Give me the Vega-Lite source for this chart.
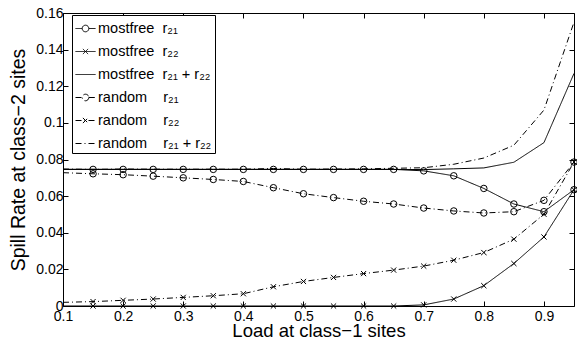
{
  "$schema": "https://vega.github.io/schema/vega-lite/v6.json",
  "width": 511,
  "height": 293,
  "autosize": {"type": "none"},
  "padding": {"left": 63, "top": 13, "right": 3, "bottom": 34},
  "background": "white",
  "config": {
    "view": {"stroke": null},
    "font": "Liberation Sans",
    "axis": {
      "domainColor": "black", "domainWidth": 1,
      "tickColor": "black", "tickWidth": 1, "tickSize": -5,
      "labelColor": "black", "labelFont": "Liberation Sans", "labelFontSize": 14,
      "titleFont": "Liberation Sans", "titleFontWeight": "normal", "titleColor": "black",
      "grid": false, "labelFlush": false, "labelOverlap": false
    }
  },
  "data": {"values": [
    {"series": "mostfree\u00a0\u00a0r\u2082\u2081", "x": 0.1, "y": 0.0746},
    {"series": "mostfree\u00a0\u00a0r\u2082\u2081", "x": 0.15, "y": 0.0746},
    {"series": "mostfree\u00a0\u00a0r\u2082\u2081", "x": 0.2, "y": 0.0746},
    {"series": "mostfree\u00a0\u00a0r\u2082\u2081", "x": 0.25, "y": 0.0746},
    {"series": "mostfree\u00a0\u00a0r\u2082\u2081", "x": 0.3, "y": 0.0746},
    {"series": "mostfree\u00a0\u00a0r\u2082\u2081", "x": 0.35, "y": 0.0746},
    {"series": "mostfree\u00a0\u00a0r\u2082\u2081", "x": 0.4, "y": 0.0746},
    {"series": "mostfree\u00a0\u00a0r\u2082\u2081", "x": 0.45, "y": 0.0746},
    {"series": "mostfree\u00a0\u00a0r\u2082\u2081", "x": 0.5, "y": 0.0746},
    {"series": "mostfree\u00a0\u00a0r\u2082\u2081", "x": 0.55, "y": 0.0746},
    {"series": "mostfree\u00a0\u00a0r\u2082\u2081", "x": 0.6, "y": 0.0746},
    {"series": "mostfree\u00a0\u00a0r\u2082\u2081", "x": 0.65, "y": 0.0746},
    {"series": "mostfree\u00a0\u00a0r\u2082\u2081", "x": 0.7, "y": 0.0738},
    {"series": "mostfree\u00a0\u00a0r\u2082\u2081", "x": 0.75, "y": 0.0711},
    {"series": "mostfree\u00a0\u00a0r\u2082\u2081", "x": 0.8, "y": 0.0642},
    {"series": "mostfree\u00a0\u00a0r\u2082\u2081", "x": 0.85, "y": 0.0557},
    {"series": "mostfree\u00a0\u00a0r\u2082\u2081", "x": 0.9, "y": 0.0515},
    {"series": "mostfree\u00a0\u00a0r\u2082\u2081", "x": 0.95, "y": 0.0635},

    {"series": "mostfree\u00a0\u00a0r\u2082\u2082", "x": 0.1, "y": 0},
    {"series": "mostfree\u00a0\u00a0r\u2082\u2082", "x": 0.15, "y": 0},
    {"series": "mostfree\u00a0\u00a0r\u2082\u2082", "x": 0.2, "y": 0},
    {"series": "mostfree\u00a0\u00a0r\u2082\u2082", "x": 0.25, "y": 0},
    {"series": "mostfree\u00a0\u00a0r\u2082\u2082", "x": 0.3, "y": 0},
    {"series": "mostfree\u00a0\u00a0r\u2082\u2082", "x": 0.35, "y": 0},
    {"series": "mostfree\u00a0\u00a0r\u2082\u2082", "x": 0.4, "y": 0},
    {"series": "mostfree\u00a0\u00a0r\u2082\u2082", "x": 0.45, "y": 0},
    {"series": "mostfree\u00a0\u00a0r\u2082\u2082", "x": 0.5, "y": 0},
    {"series": "mostfree\u00a0\u00a0r\u2082\u2082", "x": 0.55, "y": 0},
    {"series": "mostfree\u00a0\u00a0r\u2082\u2082", "x": 0.6, "y": 0},
    {"series": "mostfree\u00a0\u00a0r\u2082\u2082", "x": 0.65, "y": 0},
    {"series": "mostfree\u00a0\u00a0r\u2082\u2082", "x": 0.7, "y": 0.0006},
    {"series": "mostfree\u00a0\u00a0r\u2082\u2082", "x": 0.75, "y": 0.0038},
    {"series": "mostfree\u00a0\u00a0r\u2082\u2082", "x": 0.8, "y": 0.0111},
    {"series": "mostfree\u00a0\u00a0r\u2082\u2082", "x": 0.85, "y": 0.0232},
    {"series": "mostfree\u00a0\u00a0r\u2082\u2082", "x": 0.9, "y": 0.0377},
    {"series": "mostfree\u00a0\u00a0r\u2082\u2082", "x": 0.95, "y": 0.0635},

    {"series": "mostfree\u00a0\u00a0r\u2082\u2081 + r\u2082\u2082", "x": 0.1, "y": 0.0746},
    {"series": "mostfree\u00a0\u00a0r\u2082\u2081 + r\u2082\u2082", "x": 0.15, "y": 0.0746},
    {"series": "mostfree\u00a0\u00a0r\u2082\u2081 + r\u2082\u2082", "x": 0.2, "y": 0.0746},
    {"series": "mostfree\u00a0\u00a0r\u2082\u2081 + r\u2082\u2082", "x": 0.25, "y": 0.0746},
    {"series": "mostfree\u00a0\u00a0r\u2082\u2081 + r\u2082\u2082", "x": 0.3, "y": 0.0746},
    {"series": "mostfree\u00a0\u00a0r\u2082\u2081 + r\u2082\u2082", "x": 0.35, "y": 0.0746},
    {"series": "mostfree\u00a0\u00a0r\u2082\u2081 + r\u2082\u2082", "x": 0.4, "y": 0.0746},
    {"series": "mostfree\u00a0\u00a0r\u2082\u2081 + r\u2082\u2082", "x": 0.45, "y": 0.0746},
    {"series": "mostfree\u00a0\u00a0r\u2082\u2081 + r\u2082\u2082", "x": 0.5, "y": 0.0746},
    {"series": "mostfree\u00a0\u00a0r\u2082\u2081 + r\u2082\u2082", "x": 0.55, "y": 0.0746},
    {"series": "mostfree\u00a0\u00a0r\u2082\u2081 + r\u2082\u2082", "x": 0.6, "y": 0.0746},
    {"series": "mostfree\u00a0\u00a0r\u2082\u2081 + r\u2082\u2082", "x": 0.65, "y": 0.0746},
    {"series": "mostfree\u00a0\u00a0r\u2082\u2081 + r\u2082\u2082", "x": 0.7, "y": 0.0745},
    {"series": "mostfree\u00a0\u00a0r\u2082\u2081 + r\u2082\u2082", "x": 0.75, "y": 0.0749},
    {"series": "mostfree\u00a0\u00a0r\u2082\u2081 + r\u2082\u2082", "x": 0.8, "y": 0.0754},
    {"series": "mostfree\u00a0\u00a0r\u2082\u2081 + r\u2082\u2082", "x": 0.85, "y": 0.0785},
    {"series": "mostfree\u00a0\u00a0r\u2082\u2081 + r\u2082\u2082", "x": 0.9, "y": 0.0892},
    {"series": "mostfree\u00a0\u00a0r\u2082\u2081 + r\u2082\u2082", "x": 0.95, "y": 0.127},

    {"series": "random\u00a0\u00a0\u00a0\u00a0r\u2082\u2081", "x": 0.1, "y": 0.0728},
    {"series": "random\u00a0\u00a0\u00a0\u00a0r\u2082\u2081", "x": 0.15, "y": 0.0722},
    {"series": "random\u00a0\u00a0\u00a0\u00a0r\u2082\u2081", "x": 0.2, "y": 0.0717},
    {"series": "random\u00a0\u00a0\u00a0\u00a0r\u2082\u2081", "x": 0.25, "y": 0.0709},
    {"series": "random\u00a0\u00a0\u00a0\u00a0r\u2082\u2081", "x": 0.3, "y": 0.07},
    {"series": "random\u00a0\u00a0\u00a0\u00a0r\u2082\u2081", "x": 0.35, "y": 0.0691},
    {"series": "random\u00a0\u00a0\u00a0\u00a0r\u2082\u2081", "x": 0.4, "y": 0.068},
    {"series": "random\u00a0\u00a0\u00a0\u00a0r\u2082\u2081", "x": 0.45, "y": 0.0646},
    {"series": "random\u00a0\u00a0\u00a0\u00a0r\u2082\u2081", "x": 0.5, "y": 0.0613},
    {"series": "random\u00a0\u00a0\u00a0\u00a0r\u2082\u2081", "x": 0.55, "y": 0.0592},
    {"series": "random\u00a0\u00a0\u00a0\u00a0r\u2082\u2081", "x": 0.6, "y": 0.0572},
    {"series": "random\u00a0\u00a0\u00a0\u00a0r\u2082\u2081", "x": 0.65, "y": 0.0557},
    {"series": "random\u00a0\u00a0\u00a0\u00a0r\u2082\u2081", "x": 0.7, "y": 0.0535},
    {"series": "random\u00a0\u00a0\u00a0\u00a0r\u2082\u2081", "x": 0.75, "y": 0.0519},
    {"series": "random\u00a0\u00a0\u00a0\u00a0r\u2082\u2081", "x": 0.8, "y": 0.0508},
    {"series": "random\u00a0\u00a0\u00a0\u00a0r\u2082\u2081", "x": 0.85, "y": 0.0515},
    {"series": "random\u00a0\u00a0\u00a0\u00a0r\u2082\u2081", "x": 0.9, "y": 0.0577},
    {"series": "random\u00a0\u00a0\u00a0\u00a0r\u2082\u2081", "x": 0.95, "y": 0.0786},

    {"series": "random\u00a0\u00a0\u00a0\u00a0r\u2082\u2082", "x": 0.1, "y": 0.002},
    {"series": "random\u00a0\u00a0\u00a0\u00a0r\u2082\u2082", "x": 0.15, "y": 0.0024},
    {"series": "random\u00a0\u00a0\u00a0\u00a0r\u2082\u2082", "x": 0.2, "y": 0.0031},
    {"series": "random\u00a0\u00a0\u00a0\u00a0r\u2082\u2082", "x": 0.25, "y": 0.0038},
    {"series": "random\u00a0\u00a0\u00a0\u00a0r\u2082\u2082", "x": 0.3, "y": 0.0047},
    {"series": "random\u00a0\u00a0\u00a0\u00a0r\u2082\u2082", "x": 0.35, "y": 0.0056},
    {"series": "random\u00a0\u00a0\u00a0\u00a0r\u2082\u2082", "x": 0.4, "y": 0.0067},
    {"series": "random\u00a0\u00a0\u00a0\u00a0r\u2082\u2082", "x": 0.45, "y": 0.0105},
    {"series": "random\u00a0\u00a0\u00a0\u00a0r\u2082\u2082", "x": 0.5, "y": 0.0134},
    {"series": "random\u00a0\u00a0\u00a0\u00a0r\u2082\u2082", "x": 0.55, "y": 0.0156},
    {"series": "random\u00a0\u00a0\u00a0\u00a0r\u2082\u2082", "x": 0.6, "y": 0.0177},
    {"series": "random\u00a0\u00a0\u00a0\u00a0r\u2082\u2082", "x": 0.65, "y": 0.0196},
    {"series": "random\u00a0\u00a0\u00a0\u00a0r\u2082\u2082", "x": 0.7, "y": 0.0218},
    {"series": "random\u00a0\u00a0\u00a0\u00a0r\u2082\u2082", "x": 0.75, "y": 0.025},
    {"series": "random\u00a0\u00a0\u00a0\u00a0r\u2082\u2082", "x": 0.8, "y": 0.0292},
    {"series": "random\u00a0\u00a0\u00a0\u00a0r\u2082\u2082", "x": 0.85, "y": 0.0365},
    {"series": "random\u00a0\u00a0\u00a0\u00a0r\u2082\u2082", "x": 0.9, "y": 0.0501},
    {"series": "random\u00a0\u00a0\u00a0\u00a0r\u2082\u2082", "x": 0.95, "y": 0.0786},

    {"series": "random\u00a0\u00a0\u00a0\u00a0r\u2082\u2081 + r\u2082\u2082", "x": 0.1, "y": 0.0748},
    {"series": "random\u00a0\u00a0\u00a0\u00a0r\u2082\u2081 + r\u2082\u2082", "x": 0.15, "y": 0.0746},
    {"series": "random\u00a0\u00a0\u00a0\u00a0r\u2082\u2081 + r\u2082\u2082", "x": 0.2, "y": 0.0748},
    {"series": "random\u00a0\u00a0\u00a0\u00a0r\u2082\u2081 + r\u2082\u2082", "x": 0.25, "y": 0.0747},
    {"series": "random\u00a0\u00a0\u00a0\u00a0r\u2082\u2081 + r\u2082\u2082", "x": 0.3, "y": 0.0747},
    {"series": "random\u00a0\u00a0\u00a0\u00a0r\u2082\u2081 + r\u2082\u2082", "x": 0.35, "y": 0.0747},
    {"series": "random\u00a0\u00a0\u00a0\u00a0r\u2082\u2081 + r\u2082\u2082", "x": 0.4, "y": 0.0747},
    {"series": "random\u00a0\u00a0\u00a0\u00a0r\u2082\u2081 + r\u2082\u2082", "x": 0.45, "y": 0.0751},
    {"series": "random\u00a0\u00a0\u00a0\u00a0r\u2082\u2081 + r\u2082\u2082", "x": 0.5, "y": 0.0747},
    {"series": "random\u00a0\u00a0\u00a0\u00a0r\u2082\u2081 + r\u2082\u2082", "x": 0.55, "y": 0.0748},
    {"series": "random\u00a0\u00a0\u00a0\u00a0r\u2082\u2081 + r\u2082\u2082", "x": 0.6, "y": 0.0749},
    {"series": "random\u00a0\u00a0\u00a0\u00a0r\u2082\u2081 + r\u2082\u2082", "x": 0.65, "y": 0.0752},
    {"series": "random\u00a0\u00a0\u00a0\u00a0r\u2082\u2081 + r\u2082\u2082", "x": 0.7, "y": 0.0755},
    {"series": "random\u00a0\u00a0\u00a0\u00a0r\u2082\u2081 + r\u2082\u2082", "x": 0.75, "y": 0.0774},
    {"series": "random\u00a0\u00a0\u00a0\u00a0r\u2082\u2081 + r\u2082\u2082", "x": 0.8, "y": 0.0808},
    {"series": "random\u00a0\u00a0\u00a0\u00a0r\u2082\u2081 + r\u2082\u2082", "x": 0.85, "y": 0.0878},
    {"series": "random\u00a0\u00a0\u00a0\u00a0r\u2082\u2081 + r\u2082\u2082", "x": 0.9, "y": 0.107},
    {"series": "random\u00a0\u00a0\u00a0\u00a0r\u2082\u2081 + r\u2082\u2082", "x": 0.95, "y": 0.155}
  ]},
  "resolve": {"axis": {"x": "independent", "y": "independent"}},
  "layer": [
    {
      "mark": {"type": "line", "stroke": "black", "strokeWidth": 1, "clip": true},
      "encoding": {
        "x": {"field": "x", "type": "quantitative",
          "scale": {"domain": [0.1, 0.95], "nice": false, "zero": false},
          "axis": {"orient": "bottom", "values": [0.1, 0.2, 0.3, 0.4, 0.5, 0.6, 0.7, 0.8, 0.9], "format": ".1f",
            "title": "Load at class\u22121 sites", "titleFontSize": 18.5, "labelPadding": 8, "titlePadding": -2}},
        "y": {"field": "y", "type": "quantitative",
          "scale": {"domain": [0, 0.16], "nice": false, "zero": false},
          "axis": {"orient": "left", "values": [0, 0.02, 0.04, 0.06, 0.08, 0.1, 0.12, 0.14, 0.16], "format": ".2~f",
            "title": "Spill Rate at class\u22122 sites", "titleFontSize": 19.5, "labelPadding": 5, "titlePadding": 7}},
        "strokeDash": {"field": "series", "type": "nominal",
          "scale": {
            "domain": [
              "mostfree\u00a0\u00a0r\u2082\u2081",
              "mostfree\u00a0\u00a0r\u2082\u2082",
              "mostfree\u00a0\u00a0r\u2082\u2081 + r\u2082\u2082",
              "random\u00a0\u00a0\u00a0\u00a0r\u2082\u2081",
              "random\u00a0\u00a0\u00a0\u00a0r\u2082\u2082",
              "random\u00a0\u00a0\u00a0\u00a0r\u2082\u2081 + r\u2082\u2082"
            ],
            "range": [[1, 0], [1, 0], [1, 0], [6, 3, 1, 3], [6, 3, 1, 3], [6, 3, 1, 3]]
          },
          "legend": {
            "orient": "none", "legendX": 9, "legendY": 2,
            "title": null,
            "symbolSize": 400,
            "symbolStrokeWidth": 1,
            "symbolStrokeColor": "black",
            "symbolFillColor": "transparent",
            "labelFont": "Liberation Sans", "labelFontSize": 14.5, "labelColor": "black",
            "labelOffset": 2, "labelLimit": 400,
            "rowPadding": 6,
            "padding": 3,
            "strokeColor": "black", "fillColor": "white",
            "encode": {"symbols": {"update": {"shape": {"signal": "(datum.index == 0 || datum.index == 3) ? 'M-1,0L-0.33,0M0.33,0L1,0M0.33,0A0.33,0.33 0 1 1 -0.33,0A0.33,0.33 0 1 1 0.33,0' : (datum.index == 1 || datum.index == 4) ? 'M-1,0L1,0M-0.26,-0.26L0.26,0.26M-0.26,0.26L0.26,-0.26' : 'M-1,0L1,0'"}}}}
          }
        }
      }
    },
    {
      "transform": [{"filter": {"and": [
        {"field": "series", "oneOf": [
          "mostfree\u00a0\u00a0r\u2082\u2081",
          "mostfree\u00a0\u00a0r\u2082\u2082",
          "random\u00a0\u00a0\u00a0\u00a0r\u2082\u2081",
          "random\u00a0\u00a0\u00a0\u00a0r\u2082\u2082"
        ]},
        {"field": "x", "gt": 0.12}
      ]}}],
      "mark": {"type": "point", "filled": false, "stroke": "black", "strokeWidth": 1, "size": 42, "opacity": 1, "clip": false},
      "encoding": {
        "x": {"field": "x", "type": "quantitative",
          "scale": {"domain": [0.1, 0.95], "nice": false, "zero": false},
          "axis": {"orient": "top", "values": [0.1, 0.2, 0.3, 0.4, 0.5, 0.6, 0.7, 0.8, 0.9], "labels": false, "title": null}},
        "y": {"field": "y", "type": "quantitative",
          "scale": {"domain": [0, 0.16], "nice": false, "zero": false},
          "axis": {"orient": "right", "values": [0, 0.02, 0.04, 0.06, 0.08, 0.1, 0.12, 0.14, 0.16], "labels": false, "title": null}},
        "shape": {"field": "series", "type": "nominal",
          "scale": {
            "domain": [
              "mostfree\u00a0\u00a0r\u2082\u2081",
              "mostfree\u00a0\u00a0r\u2082\u2082",
              "random\u00a0\u00a0\u00a0\u00a0r\u2082\u2081",
              "random\u00a0\u00a0\u00a0\u00a0r\u2082\u2082"
            ],
            "range": ["circle", "M-0.8,-0.8L0.8,0.8M-0.8,0.8L0.8,-0.8", "circle", "M-0.8,-0.8L0.8,0.8M-0.8,0.8L0.8,-0.8"]
          },
          "legend": null}
      }
    }
  ]
}
